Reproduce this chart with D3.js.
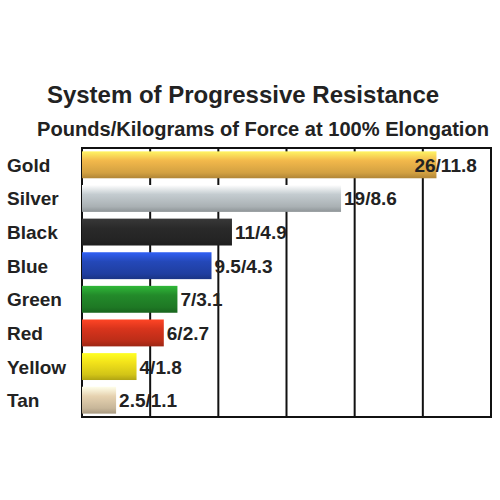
<!DOCTYPE html>
<html><head><meta charset="utf-8">
<script src="https://cdn.jsdelivr.net/npm/d3@7"></script>
<style>body{margin:0;background:#fff}</style>
</head><body>
<script>
// data
const categories = ["Gold", "Silver", "Black", "Blue", "Green", "Red", "Yellow", "Tan"];
const pounds = [26, 19, 11, 9.5, 7, 6, 4, 2.5];
const labels = ["26/11.8", "19/8.6", "11/4.9", "9.5/4.3", "7/3.1", "6/2.7", "4/1.8", "2.5/1.1"];
const colors = ["#f2b84b", "#c4ccd0", "#2a2a2a", "#2448b8", "#238a2a", "#d8341c", "#f2e21a", "#e6d2b0"];

const W = 500, H = 500;
const svg = d3.select("body").append("svg").attr("width", W).attr("height", H)
  .style("font-family", "Arial, 'Liberation Sans', sans-serif");

const x = d3.scaleLinear().domain([0, 30]).range([82, 491]);
const y = d3.scaleBand().domain(categories).range([148, 417]).paddingInner(0.2).paddingOuter(0.1);

svg.append("text").attr("x", 243).attr("y", 103).attr("text-anchor", "middle")
  .attr("font-size", 24).attr("font-weight", "bold").attr("fill", "#222").text("System of Progressive Resistance");
svg.append("text").attr("x", 263).attr("y", 136).attr("text-anchor", "middle")
  .attr("font-size", 19.5).attr("font-weight", "bold").attr("fill", "#222")
  .attr("textLength", 452).attr("lengthAdjust", "spacingAndGlyphs")
  .text("Pounds/Kilograms of Force at 100% Elongation");

const defs = svg.append("defs");
colors.forEach((c, i) => {
  const g = defs.append("linearGradient").attr("id", "g" + i).attr("x1", 0).attr("x2", 0).attr("y1", 0).attr("y2", 1);
  g.append("stop").attr("offset", "0%").attr("stop-color", d3.color(c).brighter(0.8));
  g.append("stop").attr("offset", "35%").attr("stop-color", c);
  g.append("stop").attr("offset", "80%").attr("stop-color", d3.color(c).darker(0.4));
  g.append("stop").attr("offset", "100%").attr("stop-color", d3.color(c).darker(0.9));
});

// gridlines
svg.append("g").selectAll("line").data(d3.range(5, 31, 5)).join("line")
  .attr("x1", d => x(d)).attr("x2", d => x(d)).attr("y1", 148).attr("y2", 417)
  .attr("stroke", "#111").attr("stroke-width", 2);
svg.append("rect").attr("x", x(0)).attr("y", 148).attr("width", x(30) - x(0)).attr("height", 269)
  .attr("fill", "none").attr("stroke", "#111").attr("stroke-width", 2);

const rows = svg.append("g").selectAll("g").data(categories).join("g");
rows.append("rect")
  .attr("x", x(0)).attr("y", d => y(d)).attr("height", y.bandwidth())
  .attr("width", (d, i) => x(pounds[i]) - x(0))
  .attr("fill", (d, i) => `url(#g${i})`);
rows.append("text").attr("x", 7).attr("y", d => y(d) + y.bandwidth() / 2 + 7)
  .attr("font-size", 19).attr("font-weight", "bold").attr("fill", "#222").text(d => d);
rows.append("text").attr("x", (d, i) => x(pounds[i]) + (i === 0 ? -22 : 3))
  .attr("y", d => y(d) + y.bandwidth() / 2 + 7)
  .attr("font-size", 19).attr("font-weight", "bold").attr("fill", "#222")
  .text((d, i) => labels[i]);
</script>
</body></html>
